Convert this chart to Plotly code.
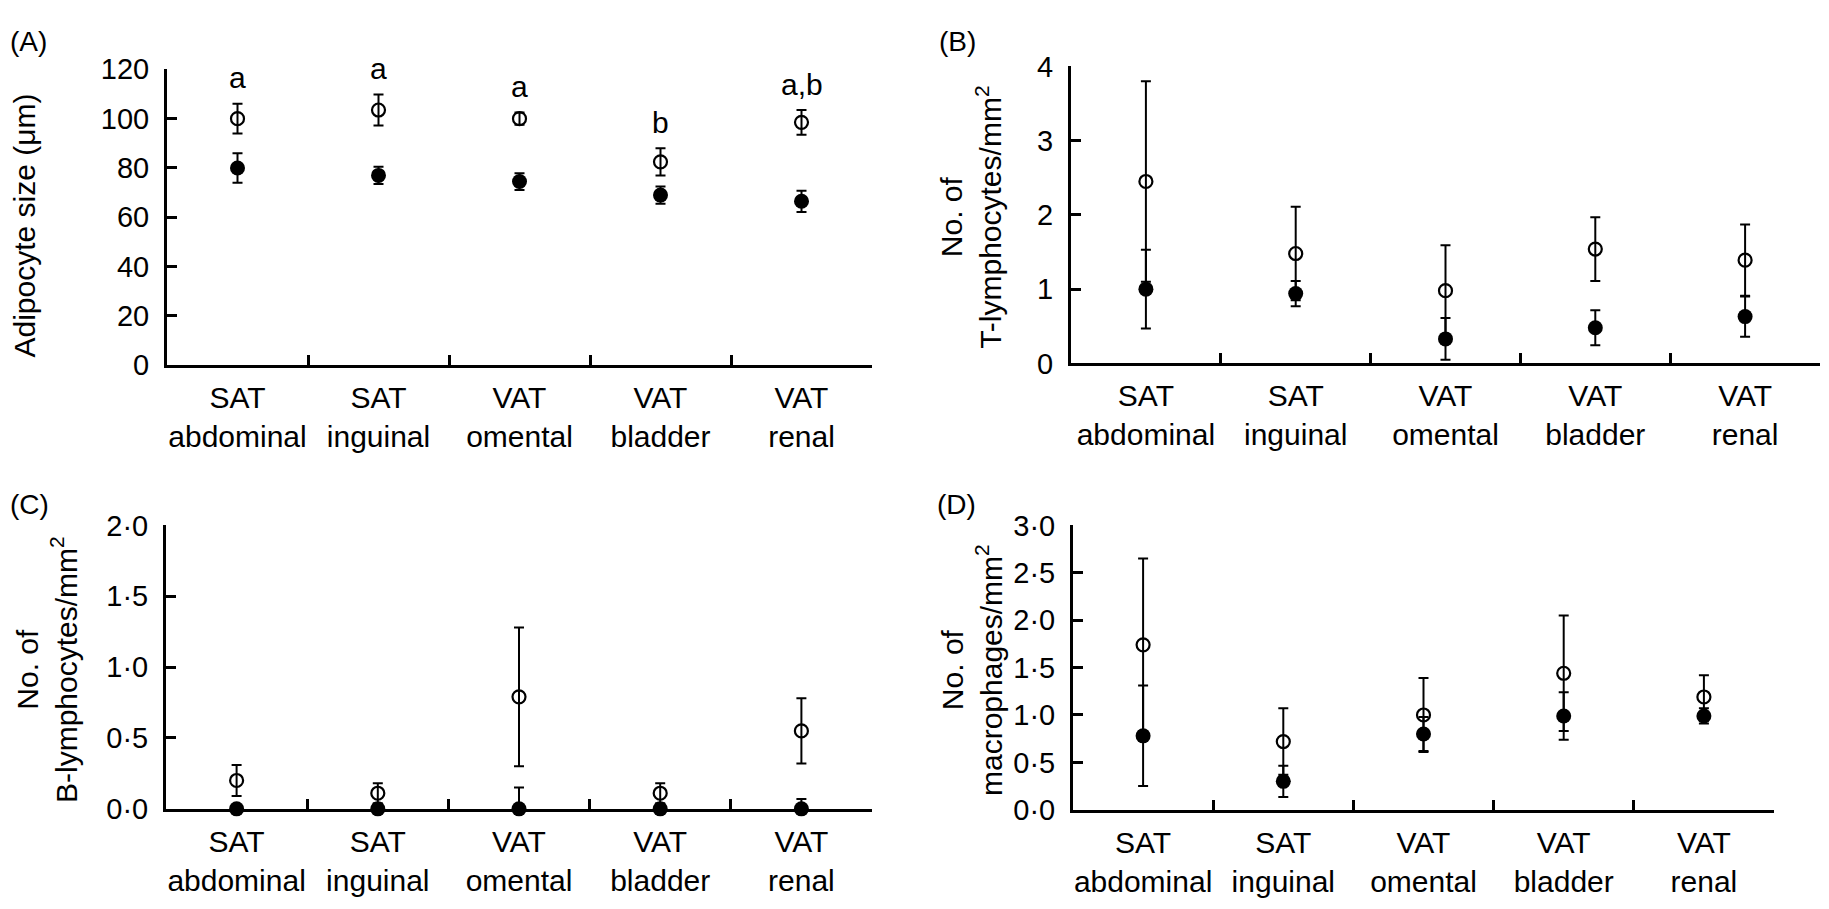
"""Adipocyte size and immune cell counts per fat depot (four panels)."""

import plotly.graph_objects as go

# page is 1829x909; the browser's default 8 px body margin is taken off
OFF = 8
W, H = 1829 - 2 * OFF, 909 - 2 * OFF
FONT = "Liberation Sans, Arial, sans-serif"

categories = ["SAT<br>abdominal", "SAT<br>inguinal", "VAT<br>omental", "VAT<br>bladder", "VAT<br>renal"]

# (A) adipocyte size, um
size_open = [100, 103.5, 100, 82.5, 98.5]
size_open_err = [6, 6.3, 2.5, 5.5, 5]
size_filled = [80, 77, 74.5, 69, 66.5]
size_filled_err = [6, 3.5, 3.4, 3.5, 4.3]
size_letters = ["a", "a", "a", "b", "a,b"]

# (B) T-lymphocytes per mm2
tcell_open = [2.45, 1.48, 0.98, 1.54, 1.39]
tcell_open_err = [1.35, 0.63, 0.61, 0.43, 0.48]
tcell_filled = [1.0, 0.94, 0.33, 0.48, 0.63]
tcell_filled_err = [0.53, 0.17, 0.28, 0.235, 0.27]

# (C) B-lymphocytes per mm2
bcell_open = [0.2, 0.11, 0.79, 0.11, 0.55]
bcell_open_err = [0.11, 0.07, 0.49, 0.07, 0.23]
bcell_filled = [0, 0, 0, 0, 0]
bcell_filled_err = [0, 0, 0.15, 0, 0.07]

# (D) macrophages per mm2
macro_open = [1.74, 0.72, 1.0, 1.44, 1.19]
macro_open_err = [0.91, 0.35, 0.39, 0.61, 0.23]
macro_filled = [0.78, 0.3, 0.8, 0.99, 0.99]
macro_filled_err = [0.53, 0.165, 0.18, 0.25, 0.08]

dot_ticks_2 = ["0·0", "0·5", "1·0", "1·5", "2·0"]
dot_ticks_3 = ["0·0", "0·5", "1·0", "1·5", "2·0", "2·5", "3·0"]


def px(x):
    return min(max(x - OFF, 0) / W, 1)


def py(y):
    return 1 - min(max(y - OFF, 0) / H, 1)


# page-pixel boxes of each plot area: left, right, top, bottom
panels = {
    "A": dict(box=(167, 872, 55, 362), ymax=120, dtick=20, ticktext=None,
              data=(size_open, size_open_err, size_filled, size_filled_err),
              title="Adipocyte size (μm)", title_xy=(25, 217), label_xy=(0, 0)),
    "B": dict(box=(1071, 1820, 52, 360), ymax=4, dtick=1, ticktext=None,
              data=(tcell_open, tcell_open_err, tcell_filled, tcell_filled_err),
              title="No. of<br>T-lymphocytes/mm<sup>2</sup>", title_xy=(971, 208), label_xy=(937, 0)),
    "C": dict(box=(166, 872, 528, 822), ymax=2, dtick=0.5, ticktext=dot_ticks_2,
              data=(bcell_open, bcell_open_err, bcell_filled, bcell_filled_err),
              title="No. of<br>B-lymphocytes/mm<sup>2</sup>", title_xy=(47, 678), label_xy=(0, 488)),
    "D": dict(box=(1073, 1774, 528, 823), ymax=3, dtick=0.5, ticktext=dot_ticks_3,
              data=(macro_open, macro_open_err, macro_filled, macro_filled_err),
              title="No. of<br>macrophages/mm<sup>2</sup>", title_xy=(972, 678), label_xy=(935, 488)),
}

fig = go.Figure()
annotations = []

for i, (name, p) in enumerate(panels.items(), start=1):
    suffix = "" if i == 1 else str(i)
    xref, yref = f"x{suffix}", f"y{suffix}"
    left, right, top, bottom = p["box"]
    mean_o, err_o, mean_f, err_f = p["data"]

    fig.add_trace(go.Scatter(
        x=categories, y=mean_o, mode="markers", xaxis=xref, yaxis=yref,
        marker=dict(symbol="circle-open", size=13, color="black", line=dict(width=2.2, color="black")),
        error_y=dict(type="data", array=err_o, arrayminus=[min(e, m) for m, e in zip(mean_o, err_o)],
                     color="black", thickness=2, width=5),
        cliponaxis=False, showlegend=False,
    ))
    fig.add_trace(go.Scatter(
        x=categories, y=mean_f, mode="markers", xaxis=xref, yaxis=yref,
        marker=dict(symbol="circle", size=15, color="black"),
        error_y=dict(type="data", array=err_f, arrayminus=[min(e, m) for m, e in zip(mean_f, err_f)],
                     color="black", thickness=2, width=5),
        cliponaxis=False, showlegend=False,
    ))

    yticks = [k * p["dtick"] for k in range(round(p["ymax"] / p["dtick"]) + 1)]
    axis_common = dict(showline=True, linewidth=3, linecolor="black", showgrid=False, zeroline=False,
                       ticks="inside", ticklen=10, tickwidth=3, tickcolor="black",
                       tickfont=dict(family=FONT, size=29, color="black"))
    fig.update_layout({
        f"xaxis{suffix}": dict(axis_common, domain=[px(left), px(right)], anchor=yref,
                               type="category", range=[-0.5, 4.5], tickson="boundaries",
                               tickangle=0,
                               tickfont=dict(family=FONT, size=30, color="black"),
                               ticklabelstandoff=4),
        f"yaxis{suffix}": dict(axis_common, domain=[py(bottom), py(top)], anchor=xref,
                               range=[0, p["ymax"]], tickvals=yticks,
                               ticktext=p["ticktext"] if p["ticktext"] else [f"{v:g}" for v in yticks],
                               ticklabelstandoff=9),
    })

    tx, ty = p["title_xy"]
    annotations.append(dict(text=p["title"], x=px(tx), y=py(ty), xref="paper", yref="paper",
                            textangle=-90, showarrow=False, xanchor="center", yanchor="middle",
                            font=dict(family=FONT, size=30, color="black")))
    lx, ly = p["label_xy"]
    annotations.append(dict(text=f"({name})", x=px(lx), y=py(ly), xref="paper", yref="paper",
                            showarrow=False, xanchor="left", yanchor="top",
                            font=dict(family=FONT, size=28, color="black")))

# significance letters above the open symbols of panel A
for cat, m, e, letter in zip(categories, size_open, size_open_err, size_letters):
    annotations.append(dict(text=letter, x=cat, y=m + e + 3, xref="x", yref="y", showarrow=False,
                            xanchor="center", yanchor="bottom",
                            font=dict(family=FONT, size=30, color="black")))

fig.update_layout(
    width=W, height=H, margin=dict(l=0, r=0, t=0, b=0),
    paper_bgcolor="white", plot_bgcolor="white",
    font=dict(family=FONT, color="black"),
    annotations=annotations,
)

fig.write_html("out.html")
